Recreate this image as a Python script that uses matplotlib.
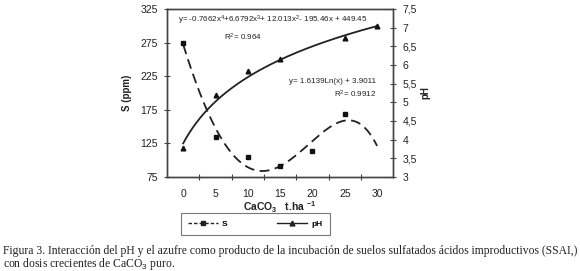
import numpy as np
import matplotlib
matplotlib.use("Agg")
import matplotlib.pyplot as plt
from matplotlib.lines import Line2D

plt.rcParams['font.family'] = ['Liberation Sans', 'DejaVu Sans']
plt.rcParams['mathtext.fontset'] = 'custom'
plt.rcParams['mathtext.rm'] = 'Liberation Sans'
plt.rcParams['mathtext.it'] = 'Liberation Sans'
plt.rcParams['mathtext.bf'] = 'Liberation Sans:bold'

# ---- data ----
categories = ["0", "5", "10", "15", "20", "25", "30"]
s_values = [275, 135, 105, 91, 113, 169, np.nan]
ph_values = [3.78, 5.20, 5.84, 6.16, np.nan, 6.72, 7.03]
s_poly_coef = [-0.7662, 6.6792, 12.013, -195.46, 449.45]
ph_log_coef = [1.6139, 3.9011]
s_ticks = [75, 125, 175, 225, 275, 325]
ph_ticks = [3, 3.5, 4, 4.5, 5, 5.5, 6, 6.5, 7, 7.5]
ph_tick_labels = ["3", "3,5", "4", "4,5", "5", "5,5", "6", "6,5", "7", "7,5"]

idx = np.arange(1, len(categories) + 1)
xf = np.linspace(1, len(categories), 300)
s_fit = np.polyval(s_poly_coef, xf)
ph_fit = ph_log_coef[0] * np.log(xf) + ph_log_coef[1]

fig = plt.figure(figsize=(5.8, 2.71), dpi=100)
ax = fig.add_axes([0.288, 0.347, 0.390, 0.620])
ax2 = ax.twinx()

frame_col = '#444444'
ax.plot(xf, s_fit, color='#222222', lw=1.3, ls=(0, (5.5, 3)))
ax.plot(idx, s_values, ls='none', marker='s', ms=2.6, color='#111111')
ax2.plot(xf, ph_fit, color='#222222', lw=1.3)
ax2.plot(idx, ph_values, ls='none', marker='^', ms=3.4, color='#111111')

ax.set_xlim(0.5, len(categories) + 0.5)
ax.set_ylim(75, 325)
ax2.set_ylim(3, 7.5)
ax.set_yticks(s_ticks)
ax.set_yticklabels([str(t) for t in s_ticks])
ax2.set_yticks(ph_ticks)
ax2.set_yticklabels(ph_tick_labels)

ax.set_xticks(idx)
ax.set_xticklabels(categories)
ax.set_xticks(np.arange(1.5, len(categories), 1.0), minor=True)
ax.tick_params(axis='x', which='major', length=0, pad=9, labelsize=7.5, colors='#222222')
ax.tick_params(axis='x', which='minor', length=4, direction='inout', color=frame_col, width=0.8)
ax.tick_params(axis='y', length=5, direction='inout', labelsize=7.5, pad=4, color=frame_col, width=0.8,
               labelcolor='#222222')
ax2.tick_params(axis='y', length=5, direction='inout', labelsize=7.5, pad=4, color=frame_col, width=0.8,
                labelcolor='#222222')
for a in (ax, ax2):
    for sp in a.spines.values():
        sp.set_color(frame_col)
        sp.set_linewidth(1.0)

ax.set_ylabel("S (ppm)", fontsize=7, fontweight='bold', labelpad=6, color='#222222')
ax2.set_ylabel("pH", fontsize=7, fontweight='bold', labelpad=3, color='#222222')
ax.set_xlabel(r"CaCO$_\mathbf{3}$   t.ha $^{\mathbf{-1}}$", fontsize=7.5, fontweight='bold',
              labelpad=0, color='#222222')

ax.text(0.05, 0.935, "y= -0.7662x$^4$+6.6792x$^3$+ 12.013x$^2$- 195.46x + 449.45",
        transform=ax.transAxes, fontsize=5.8, color='#222222', va='center')
ax.text(0.25, 0.83, "R$^2$= 0.964", transform=ax.transAxes, fontsize=5.8, color='#222222', va='center')
ax.text(0.925, 0.57, "y= 1.6139Ln(x) + 3.9011", transform=ax.transAxes, fontsize=5.8,
        color='#222222', va='center', ha='right')
ax.text(0.925, 0.49, "R$^2$= 0.9912", transform=ax.transAxes, fontsize=5.8,
        color='#222222', va='center', ha='right')

handles = [Line2D([], [], color='#222222', lw=1.0, ls=(0, (2.5, 1.5)), marker='s', ms=3),
           Line2D([], [], color='#222222', lw=1.0, marker='^', ms=3.5)]
leg = fig.legend(handles, ["S", "pH"], loc='center', bbox_to_anchor=(0.440, 0.174),
                 ncol=2, fontsize=6, frameon=True, fancybox=False, handlelength=3.6,
                 columnspacing=6.0, borderpad=0.85, handletextpad=0.5)
leg.get_frame().set_edgecolor('#555555')
leg.get_frame().set_linewidth(0.8)
for t in leg.get_texts():
    t.set_fontweight('bold')

cap_kw = dict(fontsize=8.4, family=['Liberation Serif', 'DejaVu Serif'], color='#222222', va='center')
fig.text(0.005, 0.072, "Figura 3. Interacción del pH y el azufre como producto de la incubación de suelos "
         "sulfatados ácidos improductivos (SSAI,)", **cap_kw)
fig.text(0.005, 0.024, "con dosis crecientes de CaCO$_3$ puro.", **cap_kw)

fig.savefig("out.png", dpi=100)
